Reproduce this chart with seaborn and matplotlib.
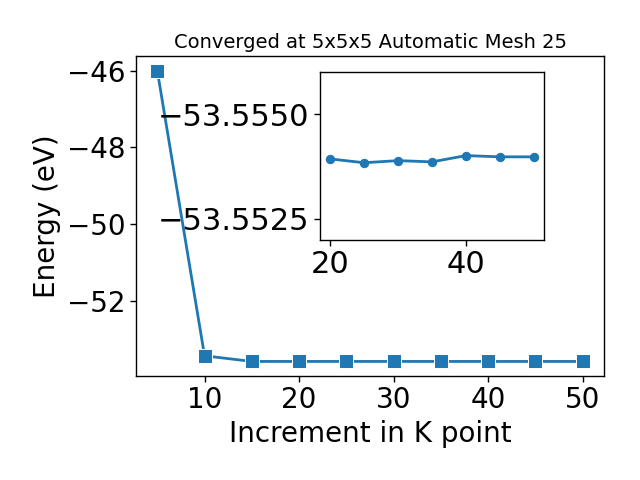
import matplotlib
matplotlib.use("Agg")
import matplotlib.pyplot as plt
import seaborn as sns
import pandas as pd
from matplotlib.ticker import FuncFormatter

sns.set_style("white")
plt.rcParams['font.family'] = ['DejaVu Sans']
plt.rcParams['text.color'] = 'black'
plt.rcParams['axes.labelcolor'] = 'black'
plt.rcParams['xtick.color'] = 'black'
plt.rcParams['ytick.color'] = 'black'

# main data
kpoints = [5, 10, 15, 20, 25, 30, 35, 40, 45, 50]
energy = [-46.0, -53.44, -53.587, -53.587, -53.587, -53.587, -53.587, -53.587, -53.587, -53.587]

# inset data
kpoints_inset = [20, 25, 30, 35, 40, 45, 50]
energy_inset = [-53.55393, -53.55384, -53.55389, -53.55386, -53.55401, -53.55398, -53.55398]

title = "Converged at 5x5x5 Automatic Mesh 25"

df = pd.DataFrame({"k": kpoints, "E": energy})
dfi = pd.DataFrame({"k": kpoints_inset, "E": energy_inset})

fig = plt.figure(figsize=(6.4, 4.8), dpi=100)
ax = fig.add_axes([0.2125, 0.2167, 0.7313, 0.6667])
sns.lineplot(data=df, x="k", y="E", marker="s", markersize=10, linewidth=2,
             color="#1f77b4", ax=ax)
ax.set_xlabel("Increment in K point", fontsize=20, color="black")
ax.set_ylabel("Energy (eV)", fontsize=20, color="black")
ax.set_title(title, fontsize=14, color="black")
ax.set_xticks([10, 20, 30, 40, 50])
ax.set_yticks([-52, -50, -48, -46])
ax.tick_params(labelsize=20, length=4, width=1, left=True, bottom=True, colors="black")
for s in ax.spines.values():
    s.set_color("black")
    s.set_linewidth(1)

axi = fig.add_axes([0.5, 0.5, 0.35, 0.35])
sns.lineplot(data=dfi, x="k", y="E", marker="o", markersize=6, linewidth=2,
             color="#1f77b4", markeredgecolor="#1f77b4", ax=axi)
axi.set_ylim(-53.552, -53.556)
axi.set_xticks([20, 40])
axi.set_yticks([-53.5550, -53.5525])
axi.yaxis.set_major_formatter(FuncFormatter(lambda v, p: f"{v:.4f}".replace("-", "\u2212")))
axi.set_xlabel("")
axi.set_ylabel("")
axi.tick_params(labelsize=22, length=4, width=1, left=True, bottom=True, colors="black")
for s in axi.spines.values():
    s.set_color("black")
    s.set_linewidth(1)

fig.savefig("out.png", dpi=100)
